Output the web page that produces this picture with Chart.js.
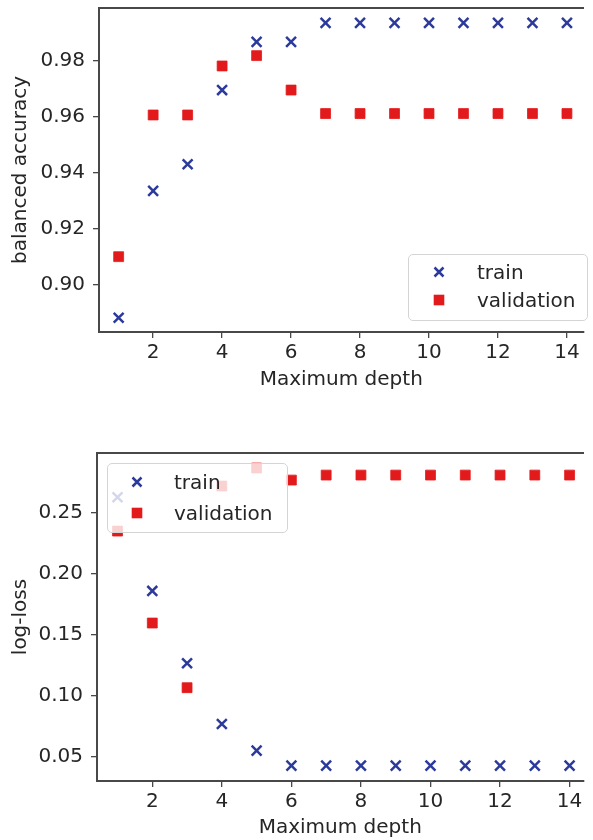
<!DOCTYPE html>
<html>
<head>
<meta charset="utf-8">
<script src="https://cdn.jsdelivr.net/npm/chart.js@4"></script>
<style>
  html, body { margin: 0; padding: 0; background: #fff; }
  body { position: relative; width: 593px; height: 840px; overflow: hidden; font-family: "DejaVu Sans", sans-serif; }
  canvas { position: absolute; left: 0; }
  .legend { position: absolute; box-sizing: border-box; background: rgba(255,255,255,.8); border: 1px solid #d4d4d4; border-radius: 5px; }
  .legend .row { position: absolute; height: 24px; line-height: 24px; font-size: 20px; color: #262626; white-space: nowrap; }
  .legend svg { position: absolute; }
</style>
</head>
<body>
<canvas id="accChart" width="593" height="420" style="top:-20px"></canvas>
<canvas id="lossChart" width="593" height="420" style="top:420px"></canvas>
<div id="accLegend" class="legend" style="left:408px;top:254px;width:180px;height:67px"></div>
<div id="lossLegend" class="legend" style="left:107px;top:463px;width:181px;height:70px"></div>
<script>
/* decision tree: scores vs max depth */
const DEPTHS      = [1, 2, 3, 4, 5, 6, 7, 8, 9, 10, 11, 12, 13, 14];
const ACC_TRAIN   = [0.8883, 0.9336, 0.9431, 0.9696, 0.9868, 0.9868, 0.9936, 0.9936, 0.9936, 0.9936, 0.9936, 0.9936, 0.9936, 0.9936];
const ACC_VALID   = [0.9101, 0.9607, 0.9607, 0.9782, 0.9819, 0.9696, 0.9612, 0.9612, 0.9612, 0.9612, 0.9612, 0.9612, 0.9612, 0.9612];
const LOSS_TRAIN  = [0.2629, 0.1861, 0.1268, 0.0770, 0.0552, 0.0429, 0.0429, 0.0429, 0.0429, 0.0429, 0.0429, 0.0429, 0.0429, 0.0429];
const LOSS_VALID  = [0.2352, 0.1598, 0.1068, 0.2721, 0.2869, 0.2770, 0.2811, 0.2811, 0.2811, 0.2811, 0.2811, 0.2811, 0.2811, 0.2811];

const DEPTH_TICKS = [2, 4, 6, 8, 10, 12, 14];
const ACC_TICKS   = [0.90, 0.92, 0.94, 0.96, 0.98];
const LOSS_TICKS  = [0.05, 0.10, 0.15, 0.20, 0.25];
const SERIES      = ["train", "validation"];

const BLUE = "#2c3b9b", RED = "#e31a1c", INK = "#262626", AXIS = "#484848";
const FONT = {family: "'DejaVu Sans', sans-serif", size: 20};

const pts = vals => DEPTHS.map((d, i) => ({x: d, y: vals[i]}));
const fixTicks = list => s => { s.ticks = list.map(v => ({value: v})); };

function makeChart(id, o){
  return new Chart(document.getElementById(id), {
    type: "scatter",
    data: {datasets: [
      {label: SERIES[0], data: pts(o.train), xAxisID: "x", yAxisID: "y",
       pointStyle: "crossRot", pointRadius: 7, pointBorderWidth: 2.5,
       borderColor: BLUE, backgroundColor: BLUE},
      {label: SERIES[1], data: pts(o.valid), xAxisID: "x", yAxisID: "y",
       pointStyle: "rect", pointRadius: 7, pointBorderWidth: 0.8,
       borderColor: RED, backgroundColor: RED}
    ]},
    options: {
      responsive: false, animation: false, devicePixelRatio: 1,
      layout: {padding: {top: o.padTop, left: 0, right: 0, bottom: 0}},
      plugins: {legend: {display: false}, tooltip: {enabled: false}},
      scales: {
        x: {
          type: "linear", position: "bottom", min: o.xMin, max: o.xMax,
          afterBuildTicks: fixTicks(DEPTH_TICKS),
          afterFit: s => { s.height = o.xHeight; },
          grid: {drawOnChartArea: false, tickLength: 6, color: AXIS, lineWidth: 1.3},
          border: {color: AXIS, width: 2},
          ticks: {font: FONT, color: INK, padding: 3, maxRotation: 0},
          title: {display: true, text: "Maximum depth", font: FONT, color: INK, padding: {top: o.xTitlePad, bottom: o.xTitlePad}}
        },
        y: {
          type: "linear", position: "left", min: o.yMin, max: o.yMax,
          afterBuildTicks: fixTicks(o.yTicks),
          afterFit: s => { s.width = o.yWidth; },
          grid: {drawOnChartArea: false, tickLength: 6, color: AXIS, lineWidth: 1.3},
          border: {color: AXIS, width: 2},
          ticks: {font: FONT, color: INK, padding: 8, callback: v => v.toFixed(2)},
          title: {display: true, text: o.yLabel, font: FONT, color: INK, padding: {top: 9, bottom: 9}}
        },
        // tick-less axis, only closes the frame along the top
        xTop: {
          position: "top", display: true,
          ticks: {display: false}, grid: {display: false},
          border: {color: AXIS, width: 2},
          afterFit: s => { s.height = 0; }
        }
      }
    }
  });
}

// the plot runs right up to the page edge, so the x range stops a bit past 14
makeChart("accChart", {
  train: ACC_TRAIN, valid: ACC_VALID, yTicks: ACC_TICKS, yLabel: "balanced accuracy",
  xMin: 0.43, xMax: 14.48, yMin: 0.8832, yMax: 0.9989,
  padTop: 28, xHeight: 68, yWidth: 99, xTitlePad: 8
});
makeChart("lossChart", {
  train: LOSS_TRAIN, valid: LOSS_VALID, yTicks: LOSS_TICKS, yLabel: "log-loss",
  xMin: 0.41, xMax: 14.40, yMin: 0.0303, yMax: 0.2992,
  padTop: 33, xHeight: 59, yWidth: 97, xTitlePad: 0
});

/* legend boxes sit over the plot with a translucent white fill */
const MARKS = [
  `<svg width="14" height="14" viewBox="0 0 14 14"><path d="M2.5 2.5L11.5 11.5M11.5 2.5L2.5 11.5" stroke="${BLUE}" stroke-width="2.5"/></svg>`,
  `<svg width="14" height="14" viewBox="0 0 14 14"><rect x="1.7" y="1.7" width="10.6" height="10.6" fill="${RED}"/></svg>`
];
function buildLegend(id, rowsY, markX, textX){
  const box = document.getElementById(id);
  SERIES.forEach((name, i) => {
    const m = document.createElement("div");
    m.innerHTML = MARKS[i];
    const svg = m.firstChild;
    svg.style.left = (markX - 7) + "px";
    svg.style.top = (rowsY[i] - 7) + "px";
    box.appendChild(svg);
    const r = document.createElement("div");
    r.className = "row";
    r.style.left = textX + "px";
    r.style.top = (rowsY[i] - 12) + "px";
    r.textContent = name;
    box.appendChild(r);
  });
}
buildLegend("accLegend", [17, 45], 30, 68);
buildLegend("lossLegend", [18, 49], 29, 66);
</script>
</body>
</html>
